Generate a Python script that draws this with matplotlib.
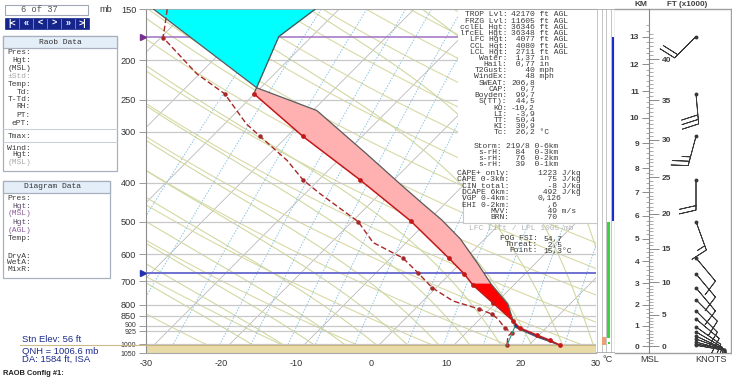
import numpy as np
import matplotlib
matplotlib.use("Agg")
import matplotlib.pyplot as plt
from matplotlib.patches import Rectangle
from matplotlib.lines import Line2D
from matplotlib.ticker import NullLocator
from matplotlib.transforms import ScaledTranslation

plt.rcParams['font.family'] = ['Liberation Sans', 'DejaVu Sans']
MONO = ['Liberation Mono', 'DejaVu Sans Mono']

# ---------------- data ----------------
env_p = [150, 175, 242, 308, 394, 497, 613, 671, 714, 791, 876, 911, 948, 976, 1005]
env_t = [-53.2, -54.4, -50.1, -37.9, -24.5, -12.3, -2.3, 1.9, 4.5, 9.6, 14.7, 16.5, 19.7, 22.1, 24.2]

dew_p = [150, 164, 176, 216, 242, 287, 308, 353, 394, 426, 499, 562, 613, 667, 726,
         782, 818, 842, 866, 911, 937, 954, 1005]
dew_t = [-72.9, -71.1, -69.7, -60.4, -54.0, -47.1, -43.6, -36.8, -32.1, -28.0, -19.2, -14.4,
         -8.4, -4.4, -0.5, 4.0, 8.5, 10.9, 12.4, 14.5, 16.1, 16.0, 17.1]

parcel_p = [150, 234, 266, 340, 409, 456, 494, 550, 634, 710, 795, 876, 906, 959, 1005]
parcel_t = [-74.7, -50.5, -39.5, -27.1, -17.9, -12.4, -8.3, -3.3, 2.4, 6.8, 11.7, 14.7, 15.7, 20.0, 24.2]

lcl_mix_p = [1005, 906]
lcl_mix_t = [17.1, 15.7]

trop_p = 175
frz_p = 667
cape03_top_p = 708
surface_p = 1005

p_levels = [150, 200, 250, 300, 400, 500, 600, 700, 800, 850, 900, 925, 1000, 1050]
small_p_labels = [900, 925, 1000, 1050]
t_ticks = [-30, -20, -10, 0, 10, 20, 30]

wind_p = [175, 242, 308, 394, 499, 613, 671, 726, 777, 827, 866, 906, 932, 954, 970, 987, 998, 1005]
wind_dir = [225, 175, 195, 180, 160, 140, 140, 140, 135, 135, 130, 125, 120, 115, 110, 105, 100, 100]
wind_spd = [20, 30, 25, 20, 15, 10, 10, 10, 10, 10, 10, 10, 10, 10, 10, 10, 10, 10]

blue_bar_p = [175, 497]
green_bar_p = [499, 964]
strip_orange_p = [970, 993]
strip_green_p = [990]

km_ticks = list(range(0, 14))
kft_ticks = list(range(0, 45, 5))

stats_labels = ["TROP Lvl:", "FRZG Lvl:", "cclEL Hgt:", "lfcEL Hgt:", "LFC Hgt:", "CCL Hgt:",
                "LCL Hgt:", "Water:", "Hail:", "T2Gust:", "WindEx:", "SWEAT:", "CAP:", "Boyden:",
                "S(TT):", "KO:", "LI:", "TT:", "KI:", "Tc:"]
stats_values = ["42170 ft AGL", "11605 ft AGL", "36346 ft AGL", "36348 ft AGL", " 4077 ft AGL",
                " 4080 ft AGL", " 2711 ft AGL", " 1,37 in", " 0,77 in", "   40 mph", "   48 mph",
                "206,8", "  0,7", " 99,7", " 44,5", "-10,2", " -3,9", " 50,4", " 30,9", " 26,2 \u00b0C"]
storm_labels = ["Storm:", "s-rH:", "s-rH:", "s-rH:"]
storm_values = ["219/8 0-6km", "  84  0-3km", "  76  0-2km", "  39  0-1km"]
cape_labels = ["CAPE+ only:", "CAPE 0-3km:", "CIN total:", "DCAPE 6km:", "VGP 0-4km:",
               "EHI 0-2km:", "MVV:", "BRN:"]
cape_values = ["1223 J/kg", "  75 J/kg", "  -8 J/kg", " 492 J/kg", "0,126", "  ,6", "  49 m/s", "  70"]
fog_labels = ["FOG FSI:", "Threat:", "Point:"]
fog_values = ["54,7", " 2,5", "15,3\u00b0C"]

raob_labels = ["Pres:", "Hgt:", "(MSL)", "\u00b1Std:", "Temp:", "Td:", "T-Td:", "RH:", "PT:",
               "ePT:", "Tmax:", "Wind:", "Hgt:", "(MSL)"]
diag_labels = ["Pres:", "Hgt:", "(MSL)", "Hgt:", "(AGL)", "Temp:", "DryA:", "WetA:", "MixR:"]
nav_glyphs = ["|<", "\u00ab", "<", ">", "\u00bb", ">|"]

# ---------------- helpers ----------------
W, H = 732, 377
fig = plt.figure(figsize=(W / 100, H / 100), dpi=100)
fig.patch.set_facecolor('white')

SKEW = 23.5
P_BOT, P_TOP = 1050.0, 150.0
Y_TOP, Y_BOT = 9.3, 353.0


def FX(x):
    return x / W


def FY(y):
    return 1 - y / H


def skx(t, p):
    return np.asarray(t, float) + SKEW * np.log(P_BOT / np.asarray(p, float))


def ftext(x, y, s, **kw):
    kw.setdefault('va', 'center')
    return fig.text(FX(x), FY(y), s, **kw)


def frect(x0, y0, x1, y1, **kw):
    r = Rectangle((FX(x0), FY(y1)), FX(x1) - FX(x0), FY(y0) - FY(y1),
                  transform=fig.transFigure, **kw)
    fig.add_artist(r)
    return r


def fline(xs, ys, **kw):
    fig.add_artist(Line2D([FX(x) for x in xs], [FY(y) for y in ys],
                          transform=fig.transFigure, **kw))


def z_to_p(z_km):
    return 1010.0 * (1 - 0.0065 * np.asarray(z_km, float) * 1000 / 298.0) ** 5.2559


# ---------------- main skew-T axes ----------------
ax = fig.add_axes([FX(146), FY(Y_BOT), (596 - 146) / W, (Y_BOT - Y_TOP) / H])
ax.set_yscale('log')
ax.set_xlim(-30, 30)
ax.set_ylim(P_BOT, P_TOP)

pp = np.geomspace(P_TOP, P_BOT, 240)
# isotherms
for t0 in range(-130, 40, 10):
    ax.plot(skx(np.full_like(pp, t0), pp), pp, color='#b4b4b4', lw=0.55, zorder=1)
# dry adiabats
for th in np.arange(250, 520, 10):
    tt = th * (pp / 1000.0) ** 0.2857 - 273.15
    ax.plot(skx(tt, pp), pp, color='#d9d9a6', lw=0.8, zorder=1)
# moist adiabats
Rd, Cp, Lv, eps = 287.04, 1005.7, 2.501e6, 0.622


def dTdp(T, p):
    es = 6.112 * np.exp(17.67 * (T - 273.15) / (T - 29.65))
    rs = eps * es / (p - es)
    return ((Rd * T + Lv * rs) / p) / (Cp + (Lv * Lv * rs * eps) / (Rd * T * T))


pm = np.geomspace(P_BOT, P_TOP, 300)
Tm = np.arange(-14, 40, 4) + 273.15
curves = [Tm.copy()]
T = Tm.copy()
for i in range(1, len(pm)):
    p0, p1 = pm[i - 1], pm[i]
    k1 = dTdp(T, p0)
    k2 = dTdp(T + k1 * (p1 - p0) / 2, (p0 + p1) / 2)
    T = T + k2 * (p1 - p0)
    curves.append(T.copy())
curves = np.array(curves) - 273.15
for j in range(curves.shape[1]):
    ax.plot(skx(curves[:, j], pm), pm, color='#cfd9a0', lw=0.8, zorder=1)
# mixing ratio lines
for w in [0.1, 0.2, 0.4, 0.7, 1, 1.5, 2, 3, 5, 7, 10, 14, 20, 28]:
    e = pp * w / (622.0 + w)
    lg = np.log(e / 6.112)
    td = 243.5 * lg / (17.67 - lg)
    ax.plot(skx(td, pp), pp, color='#8cc4e4', lw=0.7, ls=(0, (1.5, 1.5)), zorder=1)
# isobars
for p in p_levels[1:-1]:
    ax.axhline(p, color='#c8c8c8', lw=0.9, zorder=1.5)

# ground band
ax.axhspan(surface_p, P_BOT, color='#e8dba8', zorder=2, lw=0)
ax.axhline(surface_p, color='#c9b47e', lw=0.8, zorder=2)
# tropopause / freezing level
ax.axhline(trop_p, color='#a070c4', lw=1.1, zorder=2)
ax.axhline(frz_p, color='#7070d0', lw=1.4, zorder=2)
ax.plot([-30.45], [trop_p], marker='>', ms=4, color='#7a3090', clip_on=False, zorder=6)
ax.plot([-30.45], [frz_p], marker='>', ms=4, color='#2030b0', clip_on=False, zorder=6)

# area fills
pg = np.geomspace(P_TOP, surface_p, 1200)
env_i = np.interp(np.log(pg), np.log(env_p), env_t)
par_i = np.interp(np.log(pg), np.log(parcel_p), parcel_t)
ex, px_ = skx(env_i, pg), skx(par_i, pg)
pos = par_i >= env_i
ax.fill_betweenx(pg, ex, px_, where=pos & (pg <= cape03_top_p + 1), color='#ffb0b0',
                 interpolate=True, lw=0, zorder=3)
ax.fill_betweenx(pg, ex, px_, where=pos & (pg >= cape03_top_p), color='#ff0000',
                 interpolate=True, lw=0, zorder=3)
ax.fill_betweenx(pg, ex, px_, where=(~pos) & (pg < 500), color='#00ffff',
                 interpolate=True, lw=0, zorder=3)
ax.fill_betweenx(pg, ex, px_, where=(~pos) & (pg > 500), color='#1c1ca8',
                 interpolate=True, lw=0, zorder=3)

# profiles
ax.plot(skx(parcel_t, parcel_p), parcel_p, color='#5a5a5a', lw=0.9, zorder=4)
n_up = env_p.index(242) + 1
ax.plot(skx(env_t[:n_up], env_p[:n_up]), env_p[:n_up], color='#505050', lw=0.9, zorder=4)
ax.plot(skx(env_t[n_up - 1:], env_p[n_up - 1:]), env_p[n_up - 1:], color='#c41818', lw=1.1,
        marker='o', ms=2.4, zorder=5)
ax.plot(skx(dew_t, dew_p), dew_p, color='#a82828', lw=1.0, ls=(0, (4, 2)),
        marker='o', ms=2.2, markevery=[2, 4, 6, 8, 10, 12, 13, 14, 16, 17, 19, 20, 22], zorder=5)
ax.plot(skx(lcl_mix_t, lcl_mix_p), lcl_mix_p, color='#2a9a80', lw=0.8, zorder=5)

# axes styling
for s in ['top', 'right', 'bottom']:
    ax.spines[s].set_color('#a8a8a8')
    ax.spines[s].set_linewidth(0.8)
ax.spines['left'].set_color('#8c8c8c')
ax.set_yticks(p_levels)
ax.set_yticklabels([str(p) for p in p_levels])
ax.yaxis.set_minor_locator(NullLocator())
ax.tick_params(axis='y', length=5, width=0.6, color='#8c8c8c', pad=2,
               labelsize=6.6, labelcolor='#333333')
nudge = {900: 1.3, 925: -1.3}
for tk, p in zip(ax.yaxis.get_major_ticks(), p_levels):
    lab = tk.label1
    if p in small_p_labels:
        lab.set_fontsize(5.0)
    if p in nudge:
        lab.set_transform(lab.get_transform() +
                          ScaledTranslation(0, nudge[p] / 100, fig.dpi_scale_trans))
ax.set_xticks(t_ticks)
ax.set_xticklabels([str(t) for t in t_ticks])
ax.tick_params(axis='x', length=0, pad=4, labelsize=6.6, labelcolor='#333333')

# ---------------- strip (bars) ----------------
axs = fig.add_axes([FX(596), FY(Y_BOT), 19 / W, (Y_BOT - Y_TOP) / H])
axs.set_yscale('log')
axs.set_ylim(P_BOT, P_TOP)
axs.set_xlim(596, 615)
axs.set_xticks([])
axs.set_yticks([])
axs.yaxis.set_minor_locator(NullLocator())
for s in axs.spines.values():
    s.set_visible(False)
for xv in [597, 601.5, 606, 610.5]:
    axs.axvline(xv, color='#c4c4c4', lw=0.7)
axs.axvline(614.6, color='#8a8a8a', lw=0.9)
axs.axhline(P_TOP, color='#a8a8a8', lw=1.2)
axs.axhline(P_BOT, color='#a8a8a8', lw=1.2)
axs.fill_betweenx(blue_bar_p, 611, 614, color='#1c2cc8', lw=0)
axs.fill_betweenx(green_bar_p, 607, 610, color='#3cd43c', lw=0)
axs.plot([603.6] * len(strip_orange_p), strip_orange_p, 's', ms=2.2, color='#f0a070', mew=0)
axs.plot([608.5] * len(strip_green_p), strip_green_p, 's', ms=2.0, color='#3cd43c', mew=0)

# ---------------- height / wind panel ----------------
axh = fig.add_axes([FX(615), FY(Y_BOT), (731 - 615) / W, (Y_BOT - Y_TOP) / H])
axh.set_yscale('log')
axh.set_ylim(P_BOT, P_TOP)
axh.set_xlim(615, 731)
axh.set_xticks([])
axh.set_yticks([])
axh.yaxis.set_minor_locator(NullLocator())
axh.spines['left'].set_visible(False)
for s in ['top', 'right', 'bottom']:
    axh.spines[s].set_color('#a0a0a0')
    axh.spines[s].set_linewidth(1.0)

wd = np.deg2rad(wind_dir)
wu = -np.asarray(wind_spd) * np.sin(wd)
wv = -np.asarray(wind_spd) * np.cos(wd)
axh.barbs([696] * len(wind_p), wind_p, wu, wv, length=6.6, lw=0.6, color='#383838',
          sizes=dict(height=0.55, spacing=0.15, width=0.25), zorder=3)
axh.plot([696] * len(wind_p), wind_p, 'o', ms=1.8, color='#383838', zorder=4)

# km scale (left) and kft scale (right)
axk = fig.add_axes([FX(649), FY(Y_BOT), 0.0001, (Y_BOT - Y_TOP) / H])
axk.set_yscale('log')
axk.set_ylim(P_BOT, P_TOP)
axk.set_xticks([])
for s in ['top', 'right', 'bottom']:
    axk.spines[s].set_visible(False)
axk.spines['left'].set_color('#888888')
axk.spines['left'].set_linewidth(0.8)
axk.set_yticks(z_to_p(km_ticks))
axk.set_yticklabels([str(k) for k in km_ticks])
axk.set_yticks(z_to_p(np.arange(0, 13.5, 0.2)), minor=True)
axk.yaxis.set_minor_formatter(plt.NullFormatter())
axk.tick_params(axis='y', which='major', length=5, width=0.6, color='#777777', pad=2,
                labelsize=6, labelcolor='#404040')
axk.tick_params(axis='y', which='minor', length=2.5, width=0.5, color='#888888')
for lab in axk.get_yticklabels():
    lab.set_fontweight('bold')

axf = fig.add_axes([FX(649), FY(Y_BOT), 0.0001, (Y_BOT - Y_TOP) / H])
axf.set_yscale('log')
axf.set_ylim(P_BOT, P_TOP)
axf.set_xticks([])
axf.patch.set_visible(False)
for s in axf.spines.values():
    s.set_visible(False)
axf.yaxis.tick_right()
axf.set_yticks(z_to_p(np.asarray(kft_ticks) * 0.3048))
axf.set_yticklabels([str(k) for k in kft_ticks])
axf.set_yticks(z_to_p(np.arange(0, 43.5, 0.5) * 0.3048), minor=True)
axf.yaxis.set_minor_formatter(plt.NullFormatter())
axf.tick_params(axis='y', which='major', length=7, width=0.6, color='#777777', pad=2,
                labelsize=6, labelcolor='#404040')
axf.tick_params(axis='y', which='minor', length=3, width=0.5, color='#888888')
for lab in axf.get_yticklabels():
    lab.set_fontweight('bold')

ftext(641, 4.5, "KM", ha='center', fontsize=6, fontweight='bold', color='#404040')
ftext(687, 4.5, "FT (x1000)", ha='center', fontsize=5.8, fontweight='bold', color='#404040')
ftext(650, 360, "MSL", ha='center', fontsize=6.6, color='#333333')
ftext(711, 360, "KNOTS", ha='center', fontsize=6.6, color='#333333')
ftext(608, 360, "\u00b0C", ha='center', fontsize=6.6, color='#333333')
ftext(106, 10, "mb", ha='center', fontsize=6.6, color='#333333')

# ---------------- statistics text block ----------------
frect(458, 10, 595.5, 168, facecolor='white', edgecolor='none', zorder=1)
frect(463, 168, 595.5, 223, facecolor='white', edgecolor='none', zorder=1)
fline([463, 463, 595.5], [169, 223, 223], color='#c8c8c8', lw=0.8, zorder=2)
MS = 5.8
TC = '#3a3a3a'
for i, (l, v) in enumerate(zip(stats_labels, stats_values)):
    y = 15 + i * 6.2
    ftext(507.5, y, l, ha='right', fontsize=MS, family=MONO, color=TC)
    ftext(511, y, v, ha='left', fontsize=MS, family=MONO, color=TC)
for i, (l, v) in enumerate(zip(storm_labels, storm_values)):
    y = 146 + i * 6
    ftext(502.5, y, l, ha='right', fontsize=MS, family=MONO, color=TC)
    ftext(506, y, v, ha='left', fontsize=MS, family=MONO, color=TC)
for i, (l, v) in enumerate(zip(cape_labels, cape_values)):
    y = 173.5 + i * 6.35
    ftext(509.5, y, l, ha='right', fontsize=MS, family=MONO, color=TC)
    ftext(538, y, v, ha='left', fontsize=MS, family=MONO, color=TC)
ftext(521, 228.5, "LFC Lift / LPL 1005 mb", ha='center', fontsize=MS, family=MONO, color='#b4b4b4')
for i, (l, v) in enumerate(zip(fog_labels, fog_values)):
    y = 239 + i * 6
    ftext(537.5, y, l, ha='right', fontsize=MS, family=MONO, color=TC)
    ftext(543, y, v, ha='left', fontsize=MS, family=MONO, color=TC)

# ---------------- left panels ----------------
frect(5, 5, 88, 15, facecolor='white', edgecolor='#a0a8b8', lw=0.8)
ftext(21, 10, "6 of 37", ha='left', fontsize=6.3, family=MONO, color='#555555')
frect(5, 18, 89, 28.5, facecolor='#15258c', edgecolor='#15258c', lw=0.5)
for i, g in enumerate(nav_glyphs):
    x0 = 5 + i * 14
    if i > 0:
        fline([x0, x0], [18.5, 28], color='#8890c8', lw=0.6)
    ftext(x0 + 7, 23.3, g, ha='center', fontsize=6.5, fontweight='bold', color='white')

frect(3, 36, 117, 171, facecolor='white', edgecolor='#a8b0c0', lw=0.9)
frect(3, 36, 117, 48, facecolor='#e4eef8', edgecolor='#a8b0c0', lw=0.9)
ftext(60, 42.3, "Raob Data", ha='center', fontsize=MS, family=MONO, color='#333333')
raob_y = [53, 61, 69, 77, 85, 92, 99.5, 107, 115.5, 123.5, 136, 148, 155, 163]
for l, y in zip(raob_labels, raob_y):
    col = '#a8a8a8' if (l.startswith('\u00b1') or y > 160) else '#3a3a3a'
    ftext(31, y, l, ha='right', fontsize=MS, family=MONO, color=col)
fline([3, 117], [129.5, 129.5], color='#c8ccd4', lw=0.7)
fline([3, 117], [142, 142], color='#c8ccd4', lw=0.7)

frect(3, 181, 110, 278, facecolor='white', edgecolor='#a8b0c0', lw=0.9)
frect(3, 181, 110, 193, facecolor='#e4eef8', edgecolor='#a8b0c0', lw=0.9)
ftext(52, 187, "Diagram Data", ha='center', fontsize=MS, family=MONO, color='#333333')
diag_y = [199, 206, 213.5, 222, 230.5, 239, 256, 263, 269.5]
for l, y in zip(diag_labels, diag_y):
    if l.startswith('('):
        col = '#8a5a9a'
    elif l == 'Hgt:':
        col = '#5a4a6a'
    else:
        col = '#3a3a3a'
    ftext(31, y, l, ha='right', fontsize=MS, family=MONO, color=col)

fline([20, 146], [345.3, 345.3], color='#cdb98a', lw=0.8)
ftext(22, 339, "Stn Elev: 56 ft", ha='left', fontsize=6.8, color='#1c2c8c')
ftext(22, 351, "QNH = 1006.6 mb", ha='left', fontsize=6.8, color='#1c2c8c')
ftext(22, 359, "DA: 1584 ft, ISA", ha='left', fontsize=6.8, color='#1c2c8c')
ftext(3, 373.5, "RAOB Config #1:", ha='left', fontsize=5.4, fontweight='bold', color='#222222')

fig.savefig("out.png", dpi=100)
